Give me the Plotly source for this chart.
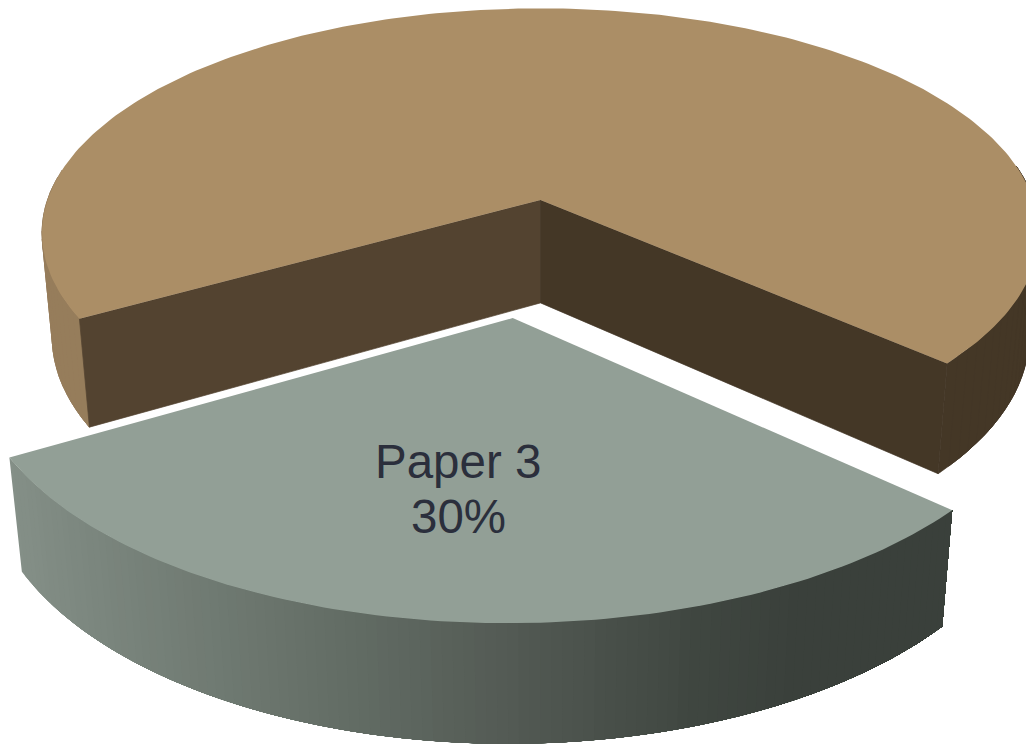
import math
import numpy as np
import plotly.graph_objects as go

# Pie data
slice_names = ["Paper 1 & 2", "Paper 3"]
slice_shares = [70, 30]
label_name = "Paper 3"

# Colours
top_colors = ["#ab8e66", "#929f96"]
cut_left_color = "#534330"
cut_right_color = "#443726"
wall_dark_color = "#443726"
wall_light_color = "#967d5b"
gradient_x = [10, 100, 350, 500, 700, 800, 953]
gradient_rgb = [(132, 143, 135), (122, 133, 125), (98, 108, 100), (84, 91, 85),
                (63, 70, 64), (58, 64, 59), (58, 64, 59)]
text_color = "#2b2f3c"

# Perspective camera for the tilted disc
CX, CY = 540.5, 200.0
SCALE_X, SCALE_Y, THICK = 493.0, 220.0, 105.0
DEPTH_Y, DEPTH_Z = 0.148, 0.0205
START_DEG = 48.0
EXPLODE = 0.5


def project(x, y, z):
    w = 1 + DEPTH_Y * y - DEPTH_Z * z
    return CX + SCALE_X * x / w, CY + (-SCALE_Y * y - THICK * z) / w


def rim(angle_deg, off=(0.0, 0.0)):
    a = np.radians(angle_deg)
    return off[0] + np.sin(a), off[1] - np.cos(a)


def polygon(fig, xs, ys, color, width=0.0):
    xs, ys = list(xs), list(ys)
    fig.add_trace(go.Scatter(
        x=xs + [xs[0]], y=ys + [ys[0]], mode="lines", fill="toself",
        fillcolor=color, line=dict(color=color, width=width),
        hoverinfo="skip", showlegend=False))


def gradient_color(px):
    channels = [np.interp(px, gradient_x, [c[i] for c in gradient_rgb]) for i in range(3)]
    return "rgb(%d,%d,%d)" % tuple(int(round(c)) for c in channels)


def wall(fig, a0, a1, off, color, width=0.0):
    # Outer wall between two rim angles, as one closed outline
    angles = np.linspace(a0, a1, 120)
    x, y = rim(angles, off)
    top_x, top_y = project(x, y, 0)
    low_x, low_y = project(x, y, -1)
    polygon(fig, np.r_[top_x, low_x[::-1]], np.r_[top_y, low_y[::-1]], color, width)


def solid_wall(fig, a0, a1, off, color):
    # Overlapping pieces, so the outline stays filled where the wall folds at the silhouette
    for start in np.arange(a0, a1, 2.0):
        wall(fig, start, min(start + 6.0, a1), off, color, width=0.7)


sweep = 360.0 * slice_shares[1] / sum(slice_shares)
slice_a0 = START_DEG - sweep
slice_a1 = START_DEG
mid = math.radians((slice_a0 + slice_a1) / 2)
offset = (EXPLODE * math.sin(mid), -EXPLODE * math.cos(mid))

fig = go.Figure()

# Large slice: the visible wall pieces, then the two cut faces, then the top
solid_wall(fig, slice_a1, 99, (0, 0), wall_dark_color)
solid_wall(fig, 262, slice_a0 + 360, (0, 0), wall_light_color)

for angle, color in ((slice_a0, cut_left_color), (slice_a1, cut_right_color)):
    rx, ry = rim(angle)
    p = [project(0, 0, 0), project(rx, ry, 0), project(rx, ry, -1), project(0, 0, -1)]
    polygon(fig, [q[0] for q in p], [q[1] for q in p], color, width=0.7)

main_angles = np.linspace(slice_a1, slice_a0 + 360, 253)
mx, my = rim(main_angles)
tx, ty = project(np.r_[0.0, mx], np.r_[0.0, my], 0)
polygon(fig, tx, ty, top_colors[0])

# Pulled-out slice: each shaded step paints from its angle to the far end,
# so the next step covers its right-hand edge and no seams remain
slice_angles = np.linspace(slice_a0, slice_a1, 109)
for a0, a1 in zip(slice_angles[:-1], slice_angles[1:]):
    sx, sy = rim((a0 + a1) / 2, offset)
    px, _ = project(sx, sy, 0)
    wall(fig, a0, slice_a1, offset, gradient_color(px))

sx, sy = rim(slice_angles, offset)
tx, ty = project(np.r_[offset[0], sx], np.r_[offset[1], sy], 0)
polygon(fig, tx, ty, top_colors[1])

# Slice label, placed along the slice's bisector
lx, ly = project(offset[0] + 0.61 * math.sin(mid), offset[1] - 0.61 * math.cos(mid), 0)
share_text = "%d%%" % slice_shares[1]
for text, anchor, shift in ((label_name, "bottom", 0), (share_text, "top", 2)):
    fig.add_annotation(x=lx, y=ly, text=text, showarrow=False, xanchor="center", yanchor=anchor,
                       xshift=-14, yshift=shift,
                       font=dict(family="Liberation Sans", size=47.5, color=text_color))

fig.update_layout(
    width=1026, height=745, margin=dict(l=0, r=0, t=0, b=0),
    paper_bgcolor="white", plot_bgcolor="white", showlegend=False,
    xaxis=dict(range=[0, 1026], visible=False, fixedrange=True),
    yaxis=dict(range=[745, 0], visible=False, fixedrange=True),
)
fig.write_html("out.html", config={"displayModeBar": False})
